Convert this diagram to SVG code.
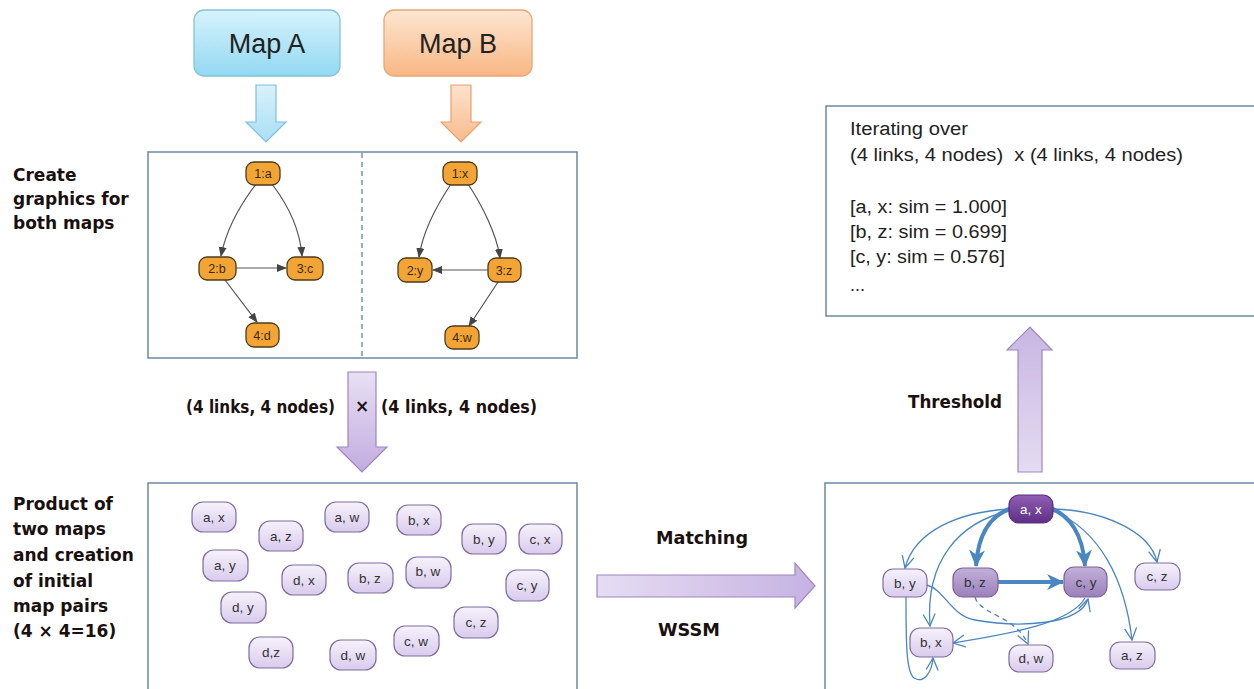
<svg xmlns="http://www.w3.org/2000/svg" width="1254" height="689" viewBox="0 0 1254 689">
<defs>
<linearGradient id="gBlue" x1="0" y1="0" x2="0" y2="1"><stop offset="0" stop-color="#d6f3fc"/><stop offset="1" stop-color="#92d8f2"/></linearGradient>
<linearGradient id="gOrange" x1="0" y1="0" x2="0" y2="1"><stop offset="0" stop-color="#fde6d2"/><stop offset="1" stop-color="#f8b784"/></linearGradient>
<linearGradient id="gArrowBlue" x1="0" y1="0" x2="0" y2="1"><stop offset="0" stop-color="#d9f1fb"/><stop offset="1" stop-color="#a8dff4"/></linearGradient>
<linearGradient id="gArrowOrange" x1="0" y1="0" x2="0" y2="1"><stop offset="0" stop-color="#fde2cc"/><stop offset="1" stop-color="#f8bb8c"/></linearGradient>
<linearGradient id="gPurpleV" x1="0" y1="0" x2="0" y2="1"><stop offset="0" stop-color="#c8b6e2"/><stop offset="1" stop-color="#e4dcf1"/></linearGradient>
<linearGradient id="gPurpleDown" x1="0" y1="0" x2="0" y2="1"><stop offset="0" stop-color="#e8e0f4"/><stop offset="1" stop-color="#c2ace0"/></linearGradient>
<linearGradient id="gPurpleH" x1="0" y1="0" x2="1" y2="0"><stop offset="0" stop-color="#e6ddf3"/><stop offset="1" stop-color="#c6b2e2"/></linearGradient>
<linearGradient id="gPair" x1="0" y1="0" x2="0" y2="1"><stop offset="0" stop-color="#f6f2fb"/><stop offset="1" stop-color="#d9cbed"/></linearGradient>
<linearGradient id="gMid" x1="0" y1="0" x2="0" y2="1"><stop offset="0" stop-color="#c3b0da"/><stop offset="1" stop-color="#9a80bb"/></linearGradient>
<linearGradient id="gDark" x1="0" y1="0" x2="0" y2="1"><stop offset="0" stop-color="#8e5fb2"/><stop offset="1" stop-color="#5e2f86"/></linearGradient>
<marker id="mGray" markerUnits="userSpaceOnUse" markerWidth="10" markerHeight="10" viewBox="0 0 10 10" refX="9" refY="5" orient="auto"><path d="M0,1 L10,5 L0,9 z" fill="#444"/></marker>
<marker id="mThick" markerUnits="userSpaceOnUse" markerWidth="18" markerHeight="18" viewBox="0 0 18 18" refX="16" refY="9" orient="auto"><path d="M0,1 L17,9 L0,17 L5,9 z" fill="#4a86c0"/></marker>
<marker id="mOpen" markerUnits="userSpaceOnUse" markerWidth="14" markerHeight="14" viewBox="0 0 14 14" refX="13" refY="7" orient="auto"><path d="M1,1 L13,7 L1,13" fill="none" stroke="#4a86c0" stroke-width="1.3"/></marker>
<style>
.box{fill:none;stroke:#6a88a4;stroke-width:1.5}
.lbl{font-family:"DejaVu Sans",sans-serif;font-weight:bold;font-size:17px;fill:#1a1010}
.mapt{font-family:"Liberation Sans",Arial,sans-serif;font-size:27px;fill:#222}
.on{fill:#f2a535;stroke:#4d3a1c;stroke-width:1.3}
.ont{font-family:"Liberation Sans",Arial,sans-serif;font-size:12.5px;fill:#3a2a10;text-anchor:middle}
.ge{fill:none;stroke:#555;stroke-width:1.2;marker-end:url(#mGray)}
.pair{fill:url(#gPair);stroke:#7e6c9e;stroke-width:1.2}
.pt{font-family:"Liberation Sans",Arial,sans-serif;font-size:13.5px;fill:#333;text-anchor:middle}
.thick{fill:none;stroke:#4a86c0;stroke-width:4;marker-end:url(#mThick)}
.thin{fill:none;stroke:#4a86c0;stroke-width:1.3;marker-end:url(#mOpen)}
.info{font-family:"Liberation Sans",Arial,sans-serif;font-size:18px;fill:#222}
.parrow{stroke:#9e86be;stroke-width:1.2}
</style>
</defs>
<rect width="1254" height="689" fill="#ffffff"/>

<g id="mapA"><rect x="194" y="10" width="146" height="66" rx="10" fill="url(#gBlue)" stroke="#86c2d8" stroke-width="1.3"/><text class="mapt" x="267" y="53" text-anchor="middle">Map A</text></g>
<g id="mapB"><rect x="384" y="10" width="148" height="66" rx="10" fill="url(#gOrange)" stroke="#e8a878" stroke-width="1.3"/><text class="mapt" x="458" y="53" text-anchor="middle">Map B</text></g>

<g id="arrowA"><polygon points="256,85 276,85 276,122 286,122 266,142 246,122 256,122" fill="url(#gArrowBlue)" stroke="#7cc0dc" stroke-width="1.2"/></g>
<g id="arrowB"><polygon points="451,85 471,85 471,122 481,122 461,142 441,122 451,122" fill="url(#gArrowOrange)" stroke="#e8a070" stroke-width="1.2"/></g>

<g id="graphicsBox">
<rect class="box" x="148" y="152" width="429" height="206"/>
<line x1="362" y1="153" x2="362" y2="357" stroke="#4a7aa8" stroke-width="1.2" stroke-dasharray="5,4"/>
</g>
<g id="labelCreate"><text class="lbl"><tspan x="13" y="181">Create</tspan><tspan x="13" y="205">graphics for</tspan><tspan x="13" y="229">both maps</tspan></text></g>

<g id="productBox"><rect class="box" x="148" y="483" width="429" height="220"/></g>
<g id="resultBox"><rect class="box" x="825" y="483" width="440" height="220"/></g>

<g id="connectors">
<path class="ge" d="M256,184 C240,205 226,230 221,256"/>
<path class="ge" d="M272,184 C288,205 300,230 302,256"/>
<path class="ge" d="M236,268 L286,268"/>
<path class="ge" d="M225,280 L257,322"/>
<path class="ge" d="M451,184 C437,205 423,230 419,257"/>
<path class="ge" d="M468,184 C482,205 497,235 500,258"/>
<path class="ge" d="M488,270 L433,270"/>
<path class="ge" d="M498,282 L469,326"/>

<path class="thick" d="M1012,508 C990,515 978,535 976,566"/>
<path class="thick" d="M1050,508 C1070,515 1083,535 1085,566"/>
<path class="thick" d="M998,582 L1063,582"/>
<path class="thin" d="M1009,509 C960,512 915,530 905,568"/>
<path class="thin" d="M1009,511 C960,522 925,560 930,626"/>
<path class="thin" d="M1053,509 C1100,510 1150,530 1157,562"/>
<path class="thin" d="M1053,511 C1100,530 1125,580 1132,640"/>
<path class="thin" d="M906,597 C906,640 906,672 914,678 C924,684 932,672 933,658"/>
<path class="thin" d="M927,585 C945,590 950,615 975,620 C1020,628 1080,625 1088,599"/>
<path class="thin" d="M1085,598 C1070,625 1000,635 953,643"/>
<path class="thin" d="M975,597 C980,615 1015,615 1028,644" stroke-dasharray="5,4"/>
</g>

<g id="n1a"><rect class="on" x="246" y="162" width="34" height="23" rx="8"/><text class="ont" x="263" y="178">1:a</text></g>
<g id="n2b"><rect class="on" x="199" y="257" width="37" height="23" rx="8"/><text class="ont" x="217" y="273">2:b</text></g>
<g id="n3c"><rect class="on" x="287" y="257" width="36" height="23" rx="8"/><text class="ont" x="305" y="273">3:c</text></g>
<g id="n4d"><rect class="on" x="246" y="323" width="33" height="24" rx="8"/><text class="ont" x="262" y="340">4:d</text></g>
<g id="n1x"><rect class="on" x="443" y="162" width="34" height="23" rx="8"/><text class="ont" x="460" y="178">1:x</text></g>
<g id="n2y"><rect class="on" x="398" y="258" width="34" height="24" rx="8"/><text class="ont" x="415" y="275">2:y</text></g>
<g id="n3z"><rect class="on" x="488" y="258" width="33" height="24" rx="8"/><text class="ont" x="504" y="275">3:z</text></g>
<g id="n4w"><rect class="on" x="445" y="326" width="34" height="23" rx="8"/><text class="ont" x="462" y="342">4:w</text></g>

<g id="productArrow"><polygon class="parrow" points="348,372 376,372 376,447 387,447 362,472 337,447 348,447" fill="url(#gPurpleDown)"/></g>
<g id="productLabel">
<text class="lbl" x="186" y="413" font-size="15" textLength="149" lengthAdjust="spacingAndGlyphs">(4 links, 4 nodes)</text>
<text class="lbl" x="362" y="412" font-size="13" text-anchor="middle">×</text>
<text class="lbl" x="381" y="413" font-size="15" textLength="156" lengthAdjust="spacingAndGlyphs">(4 links, 4 nodes)</text>
</g>

<g id="labelProduct"><text class="lbl"><tspan x="13" y="510">Product  of</tspan><tspan x="13" y="535">two maps</tspan><tspan x="13" y="561">and creation</tspan><tspan x="13" y="587">of  initial</tspan><tspan x="13" y="612">map pairs</tspan><tspan x="13" y="637">(4 × 4=16)</tspan></text></g>

<g id="p-ax"><rect class="pair" x="192" y="502" width="44" height="30" rx="11"/><text class="pt" x="214" y="522">a, x</text></g>
<g id="p-az"><rect class="pair" x="259" y="521" width="44" height="30" rx="11"/><text class="pt" x="281" y="541">a, z</text></g>
<g id="p-aw"><rect class="pair" x="325" y="502" width="44" height="30" rx="11"/><text class="pt" x="347" y="522">a, w</text></g>
<g id="p-bx"><rect class="pair" x="397" y="505" width="44" height="30" rx="11"/><text class="pt" x="419" y="525">b, x</text></g>
<g id="p-by"><rect class="pair" x="462" y="524" width="44" height="30" rx="11"/><text class="pt" x="484" y="544">b, y</text></g>
<g id="p-cx"><rect class="pair" x="519" y="524" width="43" height="30" rx="11"/><text class="pt" x="540" y="544">c, x</text></g>
<g id="p-ay"><rect class="pair" x="203" y="550" width="45" height="31" rx="11"/><text class="pt" x="225" y="570">a, y</text></g>
<g id="p-dx"><rect class="pair" x="282" y="565" width="44" height="30" rx="11"/><text class="pt" x="304" y="585">d, x</text></g>
<g id="p-bz"><rect class="pair" x="348" y="563" width="45" height="30" rx="11"/><text class="pt" x="370" y="583">b, z</text></g>
<g id="p-bw"><rect class="pair" x="406" y="557" width="45" height="31" rx="11"/><text class="pt" x="428" y="576">b, w</text></g>
<g id="p-cy"><rect class="pair" x="506" y="570" width="43" height="31" rx="11"/><text class="pt" x="527" y="590">c, y</text></g>
<g id="p-dy"><rect class="pair" x="221" y="592" width="45" height="31" rx="11"/><text class="pt" x="243" y="612">d, y</text></g>
<g id="p-cz"><rect class="pair" x="454" y="607" width="44" height="31" rx="11"/><text class="pt" x="476" y="627">c, z</text></g>
<g id="p-dz"><rect class="pair" x="249" y="637" width="44" height="31" rx="11"/><text class="pt" x="271" y="657">d,z</text></g>
<g id="p-dw"><rect class="pair" x="330" y="640" width="46" height="30" rx="11"/><text class="pt" x="353" y="660">d, w</text></g>
<g id="p-cw"><rect class="pair" x="394" y="626" width="45" height="30" rx="11"/><text class="pt" x="416" y="646">c, w</text></g>

<g id="matchArrow"><polygon class="parrow" points="597,575 795,575 795,563 815,586 795,608 795,597 597,597" fill="url(#gPurpleH)"/></g>
<g id="matchLabels">
<text class="lbl" x="656" y="544" font-size="16" textLength="92" lengthAdjust="spacingAndGlyphs">Matching</text>
<text class="lbl" x="658" y="636" font-size="16" textLength="62" lengthAdjust="spacingAndGlyphs">WSSM</text>
</g>

<g id="r-ax"><rect x="1009" y="495" width="44" height="28" rx="10" fill="url(#gDark)" stroke="#5a2e80" stroke-width="1.2"/><text class="pt" x="1031" y="514" style="fill:#ffffff">a, x</text></g>
<g id="r-by"><rect class="pair" x="883" y="569" width="44" height="28" rx="10"/><text class="pt" x="905" y="588">b, y</text></g>
<g id="r-bz"><rect x="953" y="568" width="45" height="29" rx="10" fill="url(#gMid)" stroke="#7a6296" stroke-width="1.2"/><text class="pt" x="975" y="587">b, z</text></g>
<g id="r-cy"><rect x="1064" y="567" width="43" height="30" rx="10" fill="url(#gMid)" stroke="#7a6296" stroke-width="1.2"/><text class="pt" x="1086" y="587">c, y</text></g>
<g id="r-cz"><rect class="pair" x="1135" y="563" width="45" height="27" rx="10"/><text class="pt" x="1157" y="581">c, z</text></g>
<g id="r-bx"><rect class="pair" x="910" y="628" width="43" height="29" rx="10"/><text class="pt" x="931" y="647">b, x</text></g>
<g id="r-dw"><rect class="pair" x="1009" y="645" width="44" height="27" rx="10"/><text class="pt" x="1031" y="663">d, w</text></g>
<g id="r-az"><rect class="pair" x="1110" y="642" width="45" height="27" rx="10"/><text class="pt" x="1132" y="660">a, z</text></g>

<g id="thresholdArrow"><polygon class="parrow" points="1018,472 1042,472 1042,350 1052,350 1030,327 1007,350 1018,350" fill="url(#gPurpleV)"/></g>
<g id="thresholdLabel"><text class="lbl" x="908" y="408" font-size="16" textLength="94" lengthAdjust="spacingAndGlyphs">Threshold</text></g>

<g id="infoBox">
<rect class="box" x="826" y="106" width="440" height="210"/>
<text class="info" x="850" y="135" textLength="118" lengthAdjust="spacingAndGlyphs">Iterating over</text>
<text class="info" x="850" y="161" textLength="333" lengthAdjust="spacingAndGlyphs" xml:space="preserve">(4 links, 4 nodes)  x (4 links, 4 nodes)</text>
<text class="info" x="850" y="213" textLength="157" lengthAdjust="spacingAndGlyphs">[a, x: sim = 1.000]</text>
<text class="info" x="850" y="238" textLength="157" lengthAdjust="spacingAndGlyphs">[b, z: sim = 0.699]</text>
<text class="info" x="850" y="263" textLength="155" lengthAdjust="spacingAndGlyphs">[c, y: sim = 0.576]</text>
<text class="info" x="850" y="291">...</text>
</g>
</svg>
